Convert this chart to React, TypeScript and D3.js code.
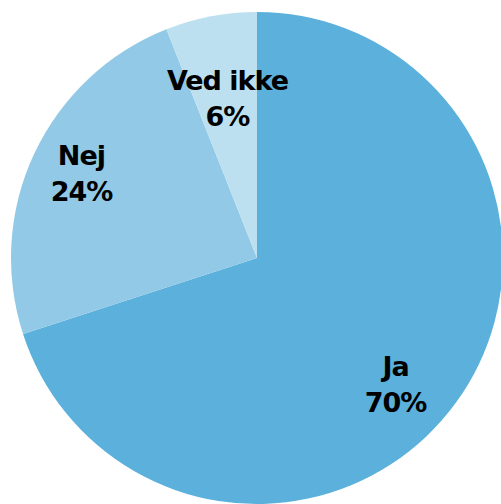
import React from "react";
import * as d3 from "d3";

const categories = ["Ja", "Nej", "Ved ikke"];
const values = [70, 24, 6];
const labels = ["70%", "24%", "6%"];
const colors = ["#5cb1dc", "#91c9e6", "#bde0f0"];

const W = 501;
const H = 504;
const CX = 257;
const CY = 258;
const R = 246;

// label placement tweaks (layout, not data)
const labelRadiusFactor = [0.788, 0.778, 0.622];
const labelAngleShift = [0.15, -0.037, -0.009];

export default function App() {
  const pie = d3
    .pie<number>()
    .sort(null)
    .value((d) => d)(values);
  const arc = d3.arc<d3.PieArcDatum<number>>().innerRadius(0).outerRadius(R);

  return (
    <svg
      width={W}
      height={H}
      style={{ position: "absolute", left: 0, top: 0, background: "#fff" }}
    >
      <g transform={`translate(${CX},${CY})`}>
        {pie.map((p, i) => (
          <path key={categories[i]} d={arc(p) || ""} fill={colors[i]} />
        ))}
        {pie.map((p, i) => {
          const mid = (p.startAngle + p.endAngle) / 2 + labelAngleShift[i];
          const r = R * labelRadiusFactor[i];
          const x = Math.sin(mid) * r;
          const y = -Math.cos(mid) * r;
          return (
            <text
              key={"l" + i}
              x={x}
              y={y}
              textAnchor="middle"
              fontFamily="DejaVu Sans"
              fontWeight="bold"
              fontSize={27}
              letterSpacing={-1}
              fill="#000"
            >
              <tspan x={x + 0.5} dy={-18}>
                {categories[i]}
              </tspan>
              <tspan x={x + 0.5} dy={36}>
                {labels[i]}
              </tspan>
            </text>
          );
        })}
      </g>
    </svg>
  );
}
